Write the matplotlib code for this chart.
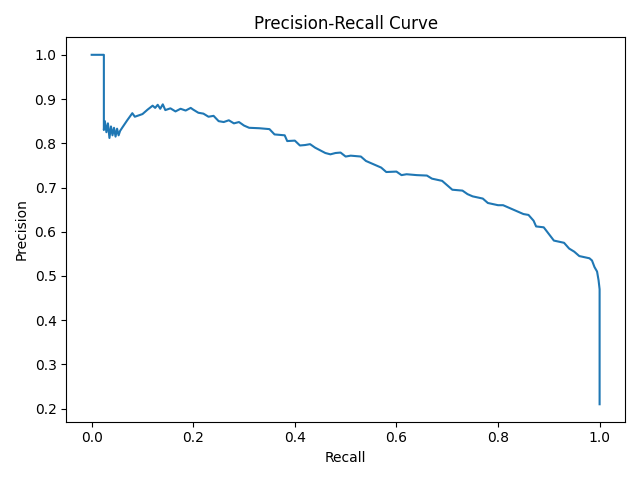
import numpy as np
import matplotlib
matplotlib.use("Agg")
import matplotlib.pyplot as plt

# values
recall = [0.0, 0.024, 0.024, 0.026, 0.029, 0.032, 0.035, 0.038, 0.041, 0.044,
          0.047, 0.050, 0.053, 0.056, 0.060, 0.070, 0.080, 0.085, 0.100, 0.110,
          0.120, 0.125, 0.130, 0.135, 0.140, 0.145, 0.155, 0.165, 0.175, 0.185,
          0.195, 0.200, 0.210, 0.220, 0.230, 0.240, 0.250, 0.260, 0.270, 0.280,
          0.290, 0.300, 0.310, 0.330, 0.350, 0.360, 0.380, 0.385, 0.400, 0.410,
          0.420, 0.430, 0.440, 0.460, 0.470, 0.480, 0.490, 0.500, 0.510, 0.530,
          0.540, 0.550, 0.570, 0.580, 0.600, 0.610, 0.620, 0.640, 0.660, 0.670,
          0.690, 0.700, 0.710, 0.730, 0.740, 0.750, 0.770, 0.780, 0.800, 0.810,
          0.820, 0.840, 0.850, 0.860, 0.870, 0.875, 0.890, 0.900, 0.910, 0.930,
          0.940, 0.950, 0.960, 0.980, 0.985, 0.990, 0.995, 0.998, 1.0, 1.0]
precision = [1.0, 1.0, 0.83, 0.85, 0.825, 0.845, 0.812, 0.838, 0.818, 0.835,
             0.815, 0.833, 0.818, 0.828, 0.835, 0.852, 0.868, 0.860, 0.866, 0.876,
             0.885, 0.880, 0.887, 0.878, 0.888, 0.875, 0.879, 0.872, 0.878, 0.874,
             0.880, 0.876, 0.869, 0.867, 0.860, 0.862, 0.850, 0.848, 0.852, 0.845,
             0.848, 0.840, 0.835, 0.834, 0.832, 0.820, 0.818, 0.805, 0.806, 0.795,
             0.796, 0.798, 0.790, 0.778, 0.775, 0.778, 0.779, 0.770, 0.772, 0.770,
             0.760, 0.755, 0.745, 0.735, 0.736, 0.728, 0.730, 0.728, 0.727, 0.720,
             0.715, 0.705, 0.695, 0.693, 0.685, 0.680, 0.675, 0.665, 0.660, 0.660,
             0.655, 0.645, 0.640, 0.638, 0.625, 0.612, 0.610, 0.595, 0.580, 0.575,
             0.562, 0.555, 0.545, 0.540, 0.535, 0.520, 0.510, 0.490, 0.470, 0.21]

fig, ax = plt.subplots(figsize=(6.4, 4.8), dpi=100)
ax.plot(recall, precision)
ax.set_title("Precision-Recall Curve")
ax.set_xlabel("Recall")
ax.set_ylabel("Precision")
plt.tight_layout()
plt.savefig("out.png")
